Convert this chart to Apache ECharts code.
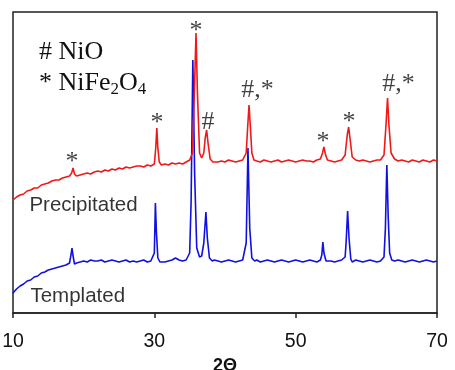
<!DOCTYPE html>
<html><head><meta charset="utf-8">
<script src="https://cdn.jsdelivr.net/npm/echarts@6/dist/echarts.min.js"></script>
<style>html,body{margin:0;padding:0;background:#fff}#c{width:455px;height:370px}</style>
</head><body><div id="c"></div>
<script>
// X tick labels (2Theta)
const xTickLabels = [10, 30, 50, 70];

// Precipitated sample (red): [2Theta, intensity a.u.]
const precipitated = [
[10.0,113],[10.5,116],[11.0,118],[11.5,119],[12.0,122],[12.5,123],[13.0,125],[13.5,125],[14.0,128],[14.5,129],
[15.0,130],[15.5,132],[16.0,133],[16.5,133],[17.0,135],[17.5,136],[18.0,137],[18.3,140],[18.5,145],[18.7,139],
[19.0,137],[19.5,138],[20.0,139],[20.5,140],[21.0,139],[21.5,141],[22.0,142],[22.5,141],[23.0,143],[23.5,142],
[24.0,144],[24.5,143],[25.0,145],[25.5,144],[26.0,146],[26.5,145],[27.0,146],[27.5,147],[28.0,147],[28.5,146],
[29.0,148],[29.5,147],[30.0,149],[30.2,165],[30.35,185],[30.5,165],[30.7,151],[31.0,148],[31.5,149],[32.0,148],
[32.5,150],[33.0,149],[33.5,150],[34.0,149],[34.5,151],[35.0,153],[35.4,160],[35.7,230],[35.9,280],[36.1,220],
[36.4,160],[36.7,155],[37.0,160],[37.2,175],[37.4,183],[37.6,170],[37.9,154],[38.3,151],[38.5,152],[39.0,151],
[39.5,152],[40.0,151],[40.5,153],[41.0,152],[41.5,151],[42.0,152],[42.5,153],[43.0,160],[43.2,185],[43.4,208],
[43.6,185],[43.8,160],[44.1,153],[44.5,152],[45.0,151],[45.5,153],[46.0,152],[46.5,151],[47.0,152],[47.5,153],
[48.0,151],[48.5,152],[49.0,153],[49.5,152],[50.0,151],[50.5,152],[51.0,153],[51.5,152],[52.0,152],[52.5,151],
[53.0,153],[53.5,154],[53.8,160],[54.0,166],[54.2,159],[54.5,153],[55.0,152],[55.5,151],[56.0,152],[56.5,153],
[57.0,158],[57.3,178],[57.5,186],[57.7,174],[58.0,156],[58.5,153],[59.0,152],[59.5,153],[60.0,152],[60.5,151],
[61.0,152],[61.5,153],[62.0,153],[62.5,158],[62.8,190],[63.0,215],[63.2,188],[63.5,160],[64.0,154],[64.5,152],
[65.0,153],[65.5,152],[66.0,151],[66.5,153],[67.0,152],[67.5,151],[68.0,153],[68.5,152],[69.0,151],[69.5,153],
[70.0,152]
];

// Templated sample (blue): [2Theta, intensity a.u.]
const templated = [
[10.0,20],[10.5,24],[11.0,27],[11.5,29],[12.0,32],[12.5,33],[13.0,36],[13.5,37],[14.0,40],[14.5,41],
[15.0,43],[15.5,44],[16.0,45],[16.5,46],[17.0,47],[17.5,48],[18.0,50],[18.2,58],[18.35,65],[18.5,57],
[18.7,49],[19.0,50],[19.5,51],[20.0,52],[20.5,51],[21.0,53],[21.5,52],[22.0,52],[22.5,53],[23.0,51],
[23.5,52],[24.0,53],[24.5,52],[25.0,51],[25.5,52],[26.0,53],[26.5,51],[27.0,52],[27.5,51],[28.0,52],
[28.5,53],[29.0,51],[29.5,52],[30.0,60],[30.15,110],[30.3,80],[30.5,55],[30.8,51],[31.0,52],[31.5,51],
[32.0,52],[32.5,53],[33.0,55],[33.2,57],[33.5,53],[34.0,52],[34.5,53],[35.0,60],[35.2,110],[35.45,253],
[35.7,140],[36.0,65],[36.4,56],[36.7,57],[37.0,70],[37.3,101],[37.5,75],[37.8,55],[38.2,52],[38.5,53],
[39.0,52],[39.5,51],[40.0,52],[40.5,53],[41.0,52],[41.5,51],[42.0,52],[42.5,53],[43.0,70],[43.25,165],
[43.5,85],[43.8,55],[44.2,52],[44.5,53],[45.0,51],[45.5,52],[46.0,53],[46.5,52],[47.0,51],[47.5,52],
[48.0,53],[48.5,52],[49.0,51],[49.5,52],[50.0,53],[50.5,52],[51.0,51],[51.5,52],[52.0,53],[52.5,52],
[53.0,51],[53.5,53],[53.7,58],[53.85,71],[54.0,60],[54.3,52],[54.5,53],[55.0,52],[55.5,51],[56.0,52],
[56.5,53],[57.0,56],[57.15,72],[57.35,102],[57.55,75],[57.8,54],[58.0,51],[58.5,53],[59.0,52],[59.5,51],
[60.0,52],[60.5,53],[61.0,52],[61.5,51],[62.0,52],[62.5,56],[62.7,85],[62.9,148],[63.1,95],[63.3,60],
[63.6,53],[64.0,52],[64.5,53],[65.0,52],[65.5,51],[66.0,52],[66.5,53],[67.0,52],[67.5,51],[68.0,52],
[68.5,53],[69.0,52],[69.5,51],[70.0,52]
];

// Peak annotations
const annoX = [18.35, 30.38, 35.9, 37.6, 44.6, 53.87, 57.55, 64.55];
const annoY = [151, 190, 282, 191, 223, 171, 191, 229];
const annoText = ['*', '*', '*', '#', '#,*', '*', '*', '#,*'];

// Series labels
const seriesLabels = ['Precipitated', 'Templated'];
const seriesLabelX = [12.25, 12.4];
const seriesLabelY = [108, 17];

const serif = "'Liberation Serif','Times New Roman',serif";
const sans = "'Liberation Sans',Arial,sans-serif";

const chart = echarts.init(document.getElementById('c'), null, {renderer: 'canvas'});

const annoData = annoX.map((x, i) => ({value: [x, annoY[i]], label: {formatter: annoText[i]}}));
const seriesLabelData = seriesLabels.map((t, i) => ({value: [seriesLabelX[i], seriesLabelY[i]], label: {formatter: t}}));

chart.setOption({
  animation: false,
  backgroundColor: '#fff',
  grid: {left: 13, right: 18, top: 12, bottom: 57, show: true, borderColor: '#222', borderWidth: 1.5,
    containLabel: false, outerBoundsMode: 'none'},
  xAxis: {
    type: 'value', min: 10, max: 70, interval: 20,
    name: '2\u0398', nameLocation: 'middle', nameGap: 41,
    nameTextStyle: {fontFamily: sans, fontSize: 18, fontWeight: 'bold', color: '#111'},
    axisLine: {show: true, lineStyle: {color: '#222', width: 1.5}},
    axisTick: {show: true, length: 5, lineStyle: {color: '#222', width: 1.5}},
    axisLabel: {fontFamily: sans, fontSize: 19.5, color: '#111', margin: 19,
      formatter: v => xTickLabels.includes(v) ? String(v) : ''},
    splitLine: {show: false}
  },
  yAxis: {
    type: 'value', min: 0, max: 301,
    axisLine: {show: false}, axisTick: {show: false}, axisLabel: {show: false}, splitLine: {show: false}
  },
  graphic: [
    {type: 'text', x: 39, y: 52, silent: true,
      style: {text: '# NiO', font: '26px ' + serif, fill: '#111', textVerticalAlign: 'middle', verticalAlign: 'middle'}},
    {type: 'text', x: 39, y: 83, silent: true,
      style: {text: '{a|* NiFe}{s|2}{a|O}{s|4}', verticalAlign: 'middle', textVerticalAlign: 'middle',
        rich: {
          a: {fontFamily: serif, fontSize: 26, lineHeight: 30, fill: '#111', color: '#111'},
          s: {fontFamily: serif, fontSize: 17, lineHeight: 17, verticalAlign: 'bottom', fill: '#111', color: '#111'}
        }}}
  ],
  series: [
    {type: 'line', data: templated, showSymbol: false, symbol: 'none', lineStyle: {color: '#1010e0', width: 1.6}, silent: true, z: 2},
    {type: 'line', data: precipitated, showSymbol: false, symbol: 'none', lineStyle: {color: '#f01818', width: 1.6}, silent: true, z: 3},
    {type: 'scatter', data: annoData, symbolSize: 1, itemStyle: {color: 'rgba(0,0,0,0)'}, silent: true, z: 4,
      label: {show: true, position: 'inside', fontFamily: serif, fontSize: 26, color: '#111'}},
    {type: 'scatter', data: seriesLabelData, symbolSize: 1, itemStyle: {color: 'rgba(0,0,0,0)'}, silent: true, z: 4,
      label: {show: true, position: 'right', distance: 0, fontFamily: sans, fontSize: 20.5, color: '#000'}}
  ]
});
</script>
</body></html>
